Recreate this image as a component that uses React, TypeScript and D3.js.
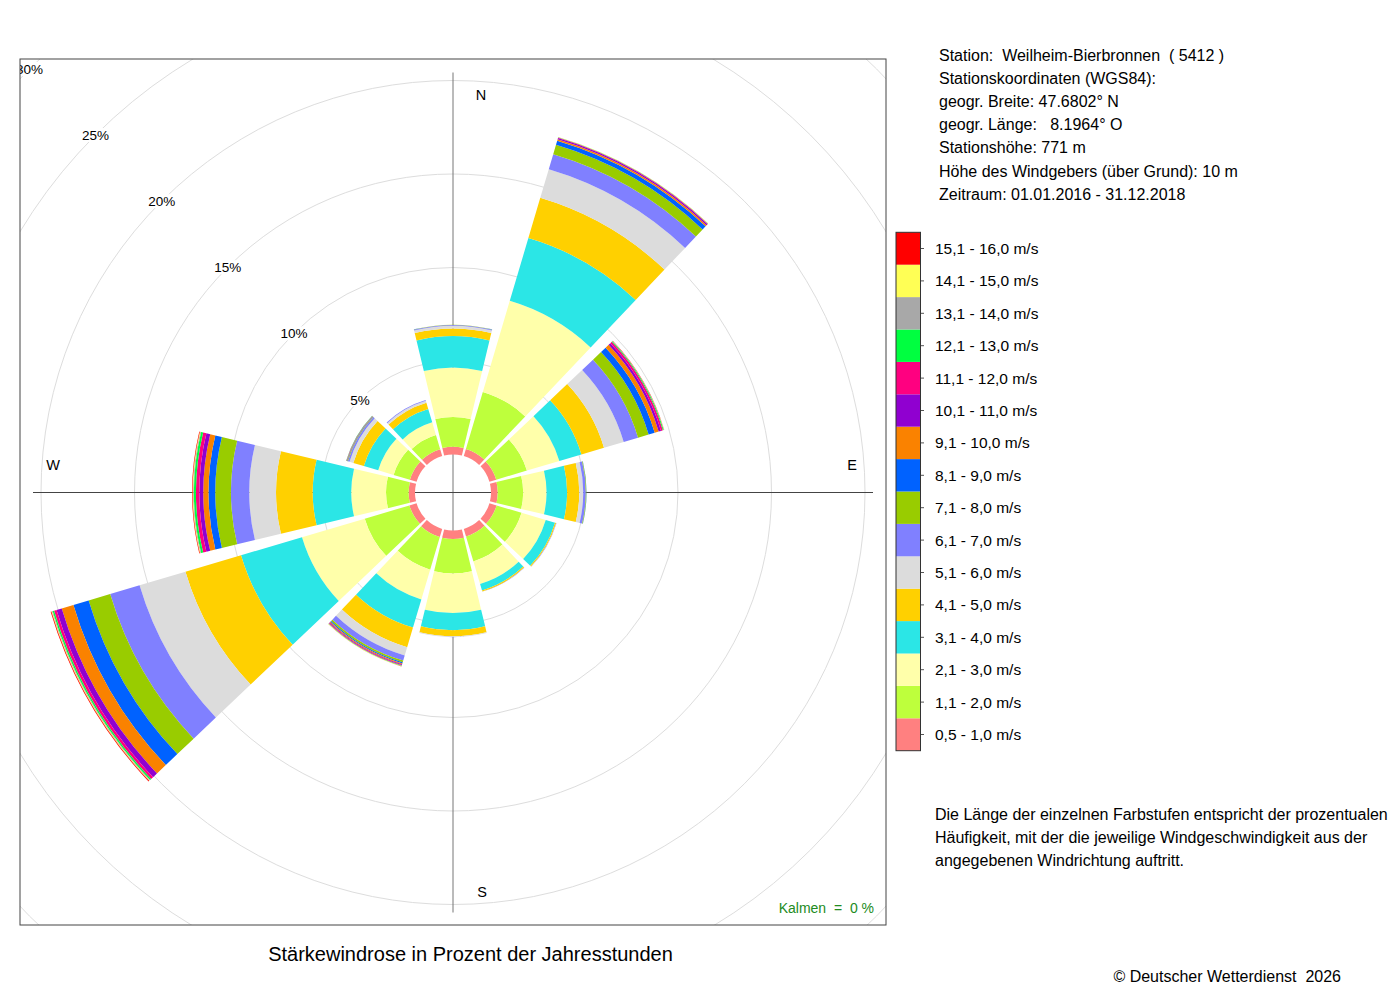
import React from "react";
import * as d3 from "d3";

// ---- data ----
const directions = [0, 30, 60, 90, 120, 150, 180, 210, 240, 270, 300, 330];

const speedClasses = [
  "0,5 - 1,0 m/s", "1,1 - 2,0 m/s", "2,1 - 3,0 m/s", "3,1 - 4,0 m/s",
  "4,1 - 5,0 m/s", "5,1 - 6,0 m/s", "6,1 - 7,0 m/s", "7,1 - 8,0 m/s",
  "8,1 - 9,0 m/s", "9,1 - 10,0 m/s", "10,1 - 11,0 m/s", "11,1 - 12,0 m/s",
  "12,1 - 13,0 m/s", "13,1 - 14,0 m/s", "14,1 - 15,0 m/s", "15,1 - 16,0 m/s",
];

const classColors = [
  "#FF8080", "#BEFF3C", "#FFFFAA", "#2BE6E6", "#FFD000", "#DCDCDC", "#8080FF", "#99CC00",
  "#0062FF", "#FA8200", "#9000D0", "#FF0080", "#00FF40", "#A8A8A8", "#FFFF55", "#FF0000",
];

// percent of hours per speed class, for each direction
const freq000 = [0.41, 1.60, 2.64, 1.68, 0.41, 0.14, 0.04, 0.01, 0.01, 0, 0, 0, 0, 0, 0, 0];
const freq030 = [0.40, 3.18, 5.08, 3.50, 2.24, 1.60, 0.84, 0.52, 0.23, 0.08, 0.07, 0.03, 0.01, 0, 0.01, 0.01];
const freq060 = [0.38, 1.71, 1.81, 1.23, 1.26, 1.10, 0.80, 0.59, 0.34, 0.22, 0.13, 0.10, 0.05, 0.01, 0.01, 0.01];
const freq090 = [0.36, 1.36, 1.25, 1.10, 0.65, 0.21, 0.14, 0.03, 0.01, 0, 0, 0, 0, 0, 0, 0];
const freq120 = [0.40, 1.39, 1.35, 0.52, 0.06, 0.01, 0.01, 0, 0, 0, 0, 0, 0, 0, 0, 0];
const freq150 = [0.42, 1.39, 1.26, 0.36, 0.06, 0.01, 0.01, 0, 0, 0, 0, 0, 0, 0, 0, 0];
const freq180 = [0.46, 1.84, 2.11, 0.92, 0.32, 0.04, 0.01, 0, 0, 0, 0, 0, 0, 0, 0, 0];
const freq210 = [0.45, 1.82, 1.66, 1.57, 1.10, 0.46, 0.28, 0.10, 0.06, 0.05, 0.04, 0.03, 0.02, 0.01, 0.01, 0.01];
const freq240 = [0.40, 2.49, 3.50, 3.40, 3.10, 2.56, 1.64, 1.20, 0.85, 0.65, 0.29, 0.14, 0.08, 0.04, 0.03, 0.04];
const freq270 = [0.34, 1.21, 1.86, 2.06, 1.96, 1.43, 0.98, 0.84, 0.36, 0.28, 0.21, 0.18, 0.11, 0.04, 0.03, 0.03];
const freq300 = [0.37, 0.91, 0.86, 0.80, 0.59, 0.21, 0.09, 0.03, 0.02, 0.02, 0.01, 0.01, 0.01, 0, 0, 0];
const freq330 = [0.38, 0.80, 0.70, 0.75, 0.35, 0.10, 0.04, 0, 0, 0, 0, 0, 0, 0, 0, 0];

const frequencies = [
  freq000, freq030, freq060, freq090, freq120, freq150,
  freq180, freq210, freq240, freq270, freq300, freq330,
];

const ringTicks = [5, 10, 15, 20, 25, 30];
const compassLetters = ["N", "E", "S", "W"];

const stationLines = [
  "Station:  Weilheim-Bierbronnen  ( 5412 )",
  "Stationskoordinaten (WGS84):",
  "geogr. Breite: 47.6802° N",
  "geogr. Länge:   8.1964° O",
  "Stationshöhe: 771 m",
  "Höhe des Windgebers (über Grund): 10 m",
  "Zeitraum: 01.01.2016 - 31.12.2018",
];

const noteLines = [
  "Die Länge der einzelnen Farbstufen entspricht der prozentualen",
  "Häufigkeit, mit der die jeweilige Windgeschwindigkeit aus der",
  "angegebenen Windrichtung auftritt.",
];

const titleText = "Stärkewindrose in Prozent der Jahresstunden";
const calmText = "Kalmen  =  0 %";
const copyrightText = "© Deutscher Wetterdienst  2026";

// ---- layout ----
const FONT = "'Liberation Sans', Arial, Helvetica, sans-serif";
const box = { x: 20, y: 59, w: 866, h: 866 };
const cx = 453;
const cy = 492.5;
const halfSpan = 13.5; // degrees
const axisLen = 420;

export default function App() {
  const r = d3.scaleLinear().domain([0, 30]).range([38, 38 + 18.7 * 30]);
  const arc = d3.arc<any>();
  const rad = (deg: number) => (deg * Math.PI) / 180;

  const segments: { d: string; fill: string; key: string }[] = [];
  directions.forEach((dir, di) => {
    const vals = frequencies[di];
    let cum = 0;
    vals.forEach((v, ci) => {
      if (v <= 0) return;
      const d = arc({
        innerRadius: r(cum),
        outerRadius: r(cum + v),
        startAngle: rad(dir - halfSpan),
        endAngle: rad(dir + halfSpan),
      }) as string;
      segments.push({ d, fill: classColors[ci], key: `${dir}-${ci}` });
      cum += v;
    });
  });

  const compassPos = [
    { x: cx + 28, y: cy - 398 },
    { x: cx + 399, y: cy - 28 },
    { x: cx + 29, y: cy + 399 },
    { x: cx - 400, y: cy - 28 },
  ];

  const legendTop = 232.3;
  const legendH = 32.4;
  const legendX = 896;
  const legendW = 24.5;

  return (
    <svg
      width={1400}
      height={1000}
      style={{ position: "absolute", left: 0, top: 0, background: "#fff" }}
      fontFamily={FONT}
    >
      <defs>
        <clipPath id="plotClip">
          <rect x={box.x} y={box.y} width={box.w} height={box.h} />
        </clipPath>
      </defs>

      <g clipPath="url(#plotClip)">
        {ringTicks.map((t) => (
          <circle key={t} cx={cx} cy={cy} r={r(t)} fill="none" stroke="#dddddd" strokeWidth={1} />
        ))}
        <line x1={cx} y1={cy - axisLen} x2={cx} y2={cy + axisLen} stroke="#777" strokeWidth={1} />
        <line x1={cx - axisLen} y1={cy} x2={cx + axisLen} y2={cy} stroke="#444" strokeWidth={1} />
        <g transform={`translate(${cx},${cy})`}>
          {segments.map((s) => (
            <path key={s.key} d={s.d} fill={s.fill} />
          ))}
        </g>
        {ringTicks.map((t) => {
          const rr = r(t);
          const x = cx - rr * Math.SQRT1_2;
          const y = cy - rr * Math.SQRT1_2;
          const label = `${t}%`;
          const w = label.length * 7.8;
          return (
            <g key={"l" + t}>
              <rect x={x - w / 2} y={y - 7} width={w} height={14} fill="#fff" />
              <text x={x} y={y + 5} fontSize={13.5} textAnchor="middle" fill="#000">
                {label}
              </text>
            </g>
          );
        })}
        {compassLetters.map((c, i) => (
          <text key={c} x={compassPos[i].x} y={compassPos[i].y + 5} fontSize={14.5} textAnchor="middle" fill="#000">
            {c}
          </text>
        ))}
        <text x={874} y={913} fontSize={14} textAnchor="end" fill="#228B22" style={{ whiteSpace: "pre" }}>
          {calmText}
        </text>
      </g>
      <rect x={box.x} y={box.y} width={box.w} height={box.h} fill="none" stroke="#444" strokeWidth={1} />

      <text x={470.5} y={961} fontSize={20} textAnchor="middle" fill="#000">
        {titleText}
      </text>

      {stationLines.map((s, i) => (
        <text key={i} x={939} y={60.5 + i * 23.2} fontSize={16} fill="#000" style={{ whiteSpace: "pre" }}>
          {s}
        </text>
      ))}

      {speedClasses.map((label, i) => {
        const y = legendTop + (speedClasses.length - 1 - i) * legendH;
        return (
          <g key={label}>
            <rect x={legendX} y={y} width={legendW} height={legendH} fill={classColors[i]} />
            <line x1={legendX + legendW} y1={y + legendH / 2} x2={legendX + legendW + 3.5} y2={y + legendH / 2} stroke="#555" />
            <text x={935} y={y + legendH / 2 + 5.5} fontSize={15.5} fill="#000">
              {label}
            </text>
          </g>
        );
      })}
      <rect
        x={legendX}
        y={legendTop}
        width={legendW}
        height={legendH * speedClasses.length}
        fill="none"
        stroke="#333"
        strokeWidth={1}
      />

      {noteLines.map((s, i) => (
        <text key={"n" + i} x={935} y={819.5 + i * 23} fontSize={16} fill="#000">
          {s}
        </text>
      ))}

      <text x={1341} y={981.5} fontSize={16} textAnchor="end" fill="#000" style={{ whiteSpace: "pre" }}>
        {copyrightText}
      </text>
    </svg>
  );
}
